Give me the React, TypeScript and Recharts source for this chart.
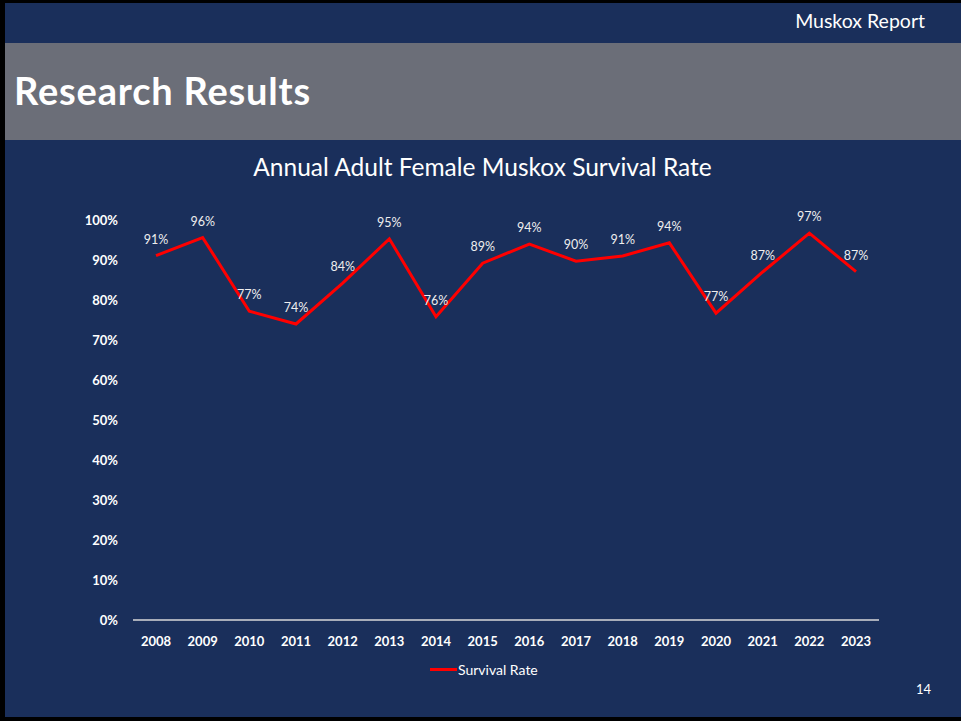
import React from "react";
import { LineChart, Line, XAxis, YAxis, LabelList } from "recharts";

const years = ["2008","2009","2010","2011","2012","2013","2014","2015","2016","2017","2018","2019","2020","2021","2022","2023"];
const survival = [0.911, 0.956, 0.772, 0.740, 0.842, 0.953, 0.758, 0.892, 0.940, 0.897, 0.910, 0.943, 0.767, 0.870, 0.967, 0.871];
const yTicks = [0, 0.1, 0.2, 0.3, 0.4, 0.5, 0.6, 0.7, 0.8, 0.9, 1.0];

const data = years.map((y, i) => ({ year: y, rate: survival[i] }));

const NAVY = "#1a2f5b";
const FONT = "Lato, 'Open Sans', sans-serif";
const pct = (v: number) => `${Math.round(v * 100)}%`;

export default function App() {
  return (
    <div style={{ position: "fixed", left: 0, top: 0, width: 961, height: 721, background: "#000", fontFamily: FONT, overflow: "hidden" }}>
      <div style={{ position: "absolute", left: 5, top: 3, width: 956, height: 714, background: NAVY }} />
      <div style={{ position: "absolute", left: 5, top: 43, width: 956, height: 97, background: "#6b6e78" }} />
      <div style={{ position: "absolute", right: 36, top: 9, color: "#fff", fontSize: 19.5, lineHeight: "24px" }}>
        Muskox Report
      </div>
      <div style={{ position: "absolute", left: 14, top: 66, color: "#fff", fontSize: 38, fontWeight: 700, lineHeight: "48px", letterSpacing: 0.8 }}>
        Research Results
      </div>
      <div style={{ position: "absolute", left: 0, width: 965, top: 151, textAlign: "center", color: "#fff", fontSize: 24.5, lineHeight: "32px" }}>
        Annual Adult Female Muskox Survival Rate
      </div>
      <div style={{ position: "absolute", left: 0, top: 0 }}>
        <LineChart width={961} height={721} data={data} margin={{ top: 220, right: 82, bottom: 61, left: 0 }}>
          <XAxis
            dataKey="year"
            height={40}
            padding={{ left: 23, right: 23 }}
            axisLine={{ stroke: "#d9d9d9", strokeWidth: 1.5 }}
            tickLine={false}
            tickSize={0}
            tickMargin={17}
            tick={{ fill: "#fff", fontSize: 13, fontWeight: 700, fontFamily: FONT }}
            interval={0}
          />
          <YAxis
            width={133}
            domain={[0, 1]}
            ticks={yTicks}
            tickFormatter={pct}
            axisLine={false}
            tickLine={false}
            tickSize={0}
            tickMargin={15}
            tick={{ fill: "#fff", fontSize: 13, fontWeight: 700, fontFamily: FONT }}
          />
          <Line
            dataKey="rate"
            stroke="#ff0000"
            strokeWidth={3}
            dot={false}
            isAnimationActive={false}
          >
            <LabelList dataKey="rate" position="top" offset={12} formatter={(v: any) => pct(Number(v))} style={{ fill: "#eeeeee", fontSize: 12.5, fontFamily: FONT }} />
          </Line>
        </LineChart>
      </div>
      <div style={{ position: "absolute", left: 430, top: 661, display: "flex", alignItems: "center", color: "#fff", fontSize: 14 }}>
        <span style={{ display: "inline-block", width: 27, height: 3, background: "#ff0000", marginRight: 1 }} />
        <span>Survival Rate</span>
      </div>
      <div style={{ position: "absolute", left: 916, top: 681, color: "#fff", fontSize: 13 }}>14</div>
    </div>
  );
}
